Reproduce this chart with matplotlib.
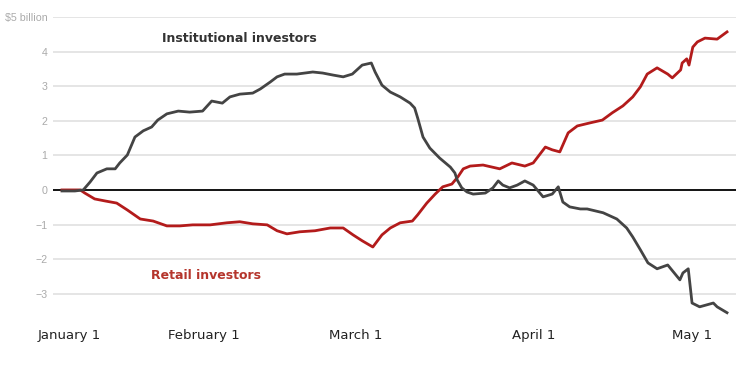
import matplotlib.pyplot as plt

# x is a trading-day index from the first data point, y in $ billion
inst_x = [0.0, 1.7, 2.8, 3.7, 4.6, 5.9, 7.0, 7.6, 8.6, 9.6, 10.7, 11.8, 12.6, 13.8, 15.3,
          16.8, 18.5, 19.7, 21.1, 22.1, 23.4, 25.1, 26.1, 27.4, 28.3, 29.3, 30.9, 33.0,
          34.3, 35.7, 37.0, 38.2, 39.5, 40.7, 41.2, 42.1, 43.2, 44.5, 45.8, 46.4, 46.8,
          47.5, 48.4, 49.7, 51.1, 51.7, 52.0, 52.6, 53.3, 54.1, 55.7, 56.7, 57.4, 58.0,
          58.9, 59.9, 60.9, 62.0, 63.3, 64.5, 65.3, 65.9, 66.8, 68.2, 69.1, 71.2, 73.0,
          74.3, 75.1, 76.1, 77.1, 78.3, 79.7, 81.3, 81.7, 82.4, 82.9, 83.9, 85.7, 86.2, 87.5]
inst_y = [-0.03, -0.03, 0.0, 0.23, 0.49, 0.61, 0.61, 0.78, 1.01, 1.53, 1.71, 1.82, 2.02, 2.20, 2.28,
          2.25, 2.28, 2.57, 2.51, 2.69, 2.77, 2.80, 2.92, 3.12, 3.27, 3.35, 3.35, 3.41,
          3.38, 3.32, 3.27, 3.35, 3.61, 3.67, 3.41, 3.03, 2.83, 2.69, 2.51, 2.37, 2.08,
          1.53, 1.21, 0.92, 0.66, 0.49, 0.29, 0.06, -0.06, -0.12, -0.09, 0.06, 0.26, 0.14,
          0.06, 0.14, 0.26, 0.14, -0.20, -0.12, 0.09, -0.35, -0.49, -0.55, -0.55, -0.66, -0.84,
          -1.10, -1.36, -1.73, -2.11, -2.28, -2.17, -2.60, -2.40, -2.28, -3.27, -3.38, -3.27, -3.38, -3.55]

retail_x = [0.0, 2.4, 3.0, 4.3, 5.7, 7.2, 8.6, 10.3, 12.0, 13.8, 15.5, 17.2, 19.5, 21.7,
            23.4, 25.1, 27.0, 28.3, 29.6, 31.3, 33.3, 35.3, 37.0, 38.3, 39.5, 40.9, 42.1,
            43.2, 44.5, 46.1, 46.8, 48.0, 49.1, 50.1, 51.3, 52.1, 52.8, 53.7, 55.4, 57.6,
            59.2, 60.9, 62.0, 63.6, 64.5, 65.5, 66.6, 67.8, 69.5, 71.1, 72.4, 73.8, 75.1,
            76.1, 77.0, 78.3, 79.7, 80.3, 81.4, 81.6, 82.2, 82.5, 83.0, 83.6, 84.6, 86.2, 87.5]
retail_y = [0.0, 0.0, -0.09, -0.26, -0.32, -0.38, -0.58, -0.84, -0.90, -1.04, -1.04, -1.01, -1.01, -0.95,
            -0.92, -0.98, -1.01, -1.18, -1.27, -1.21, -1.18, -1.10, -1.10, -1.30, -1.47, -1.65, -1.30,
            -1.10, -0.95, -0.90, -0.72, -0.38, -0.12, 0.09, 0.17, 0.38, 0.61, 0.69, 0.72, 0.61,
            0.78, 0.69, 0.78, 1.24, 1.16, 1.10, 1.65, 1.85, 1.94, 2.02, 2.23, 2.43, 2.69,
            2.98, 3.35, 3.53, 3.35, 3.24, 3.47, 3.67, 3.79, 3.61, 4.13, 4.28, 4.39, 4.36, 4.57]

month_pos = [0.9, 18.7, 38.7, 62.0, 82.9]
month_labels = ['January 1', 'February 1', 'March 1', 'April 1', 'May 1']
y_ticks = [-3, -2, -1, 0, 1, 2, 3, 4, 5]
y_labels = ['\u22123', '\u22122', '\u22121', '0', '1', '2', '3', '4', '$5 billion']

fig = plt.figure(figsize=(7.54, 3.78), dpi=100)
ax = fig.add_axes([0.0703, 0.159, 0.906, 0.796])

for v in y_ticks:
    if v != 0:
        ax.axhline(v, color='#e0e0e0', lw=1.2, zorder=1)
ax.axhline(0, color='black', lw=1.3, zorder=2)

ax.plot(retail_x, retail_y, color='#b31b1b', lw=2.0, zorder=3, solid_joinstyle='round')
ax.plot(inst_x, inst_y, color='#444444', lw=2.0, zorder=4, solid_joinstyle='round')

ax.text(23.4, 4.39, 'Institutional investors', fontsize=9, fontweight='bold',
        color='#333333', ha='center', va='center')
ax.text(18.9, -2.46, 'Retail investors', fontsize=9, fontweight='bold',
        color='#b5352c', ha='center', va='center')

ax.set_xlim(-1.18, 88.7)
ax.set_ylim(-3.7, 5.0)
ax.set_yticks(y_ticks)
ax.set_yticklabels(y_labels, fontsize=7.7, color='#aaaaaa', family='Liberation Sans')
ax.set_xticks(month_pos)
ax.set_xticklabels(month_labels, fontsize=9.5, color='#222222')
ax.tick_params(axis='both', length=0)
ax.tick_params(axis='y', pad=4)
ax.tick_params(axis='x', pad=8)
for s in ax.spines.values():
    s.set_visible(False)

fig.savefig('out.png', dpi=100)
